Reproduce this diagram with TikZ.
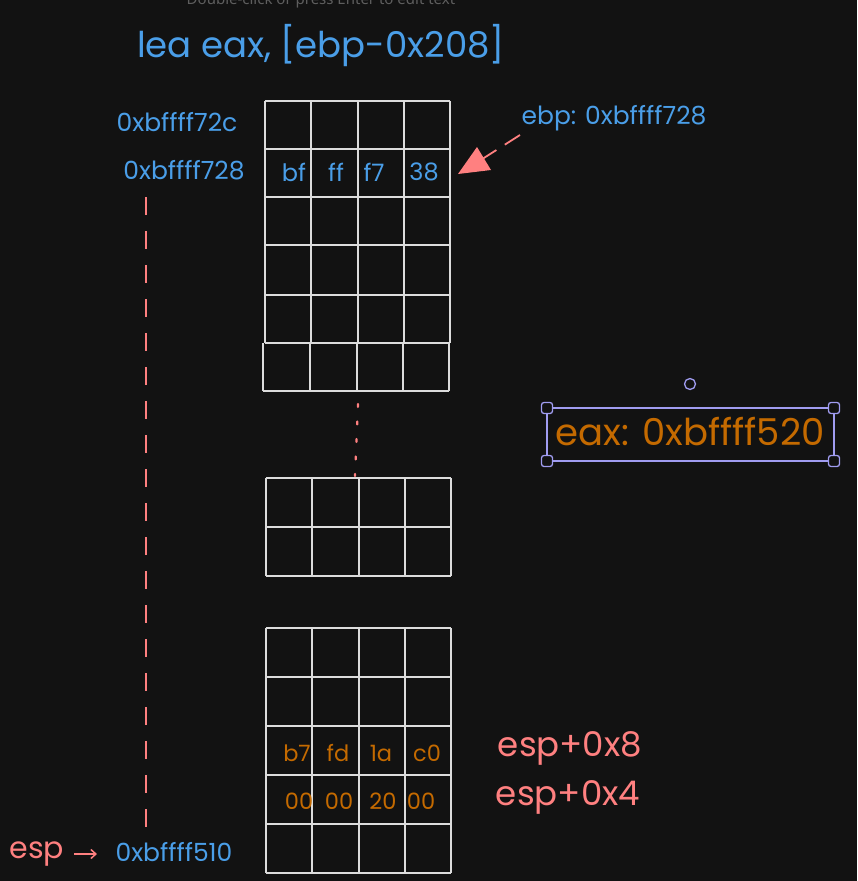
\documentclass[tikz,border=0pt]{standalone}
\usepackage{fontspec}
\usetikzlibrary{arrows.meta}
\setmainfont{Poppins}
\newfontfamily\uifont{Noto Sans}
\definecolor{bg}{HTML}{121212}
\definecolor{hblue}{HTML}{4A9EE8}
\definecolor{hred}{HTML}{FF8080}
\definecolor{horange}{HTML}{C46A00}
\definecolor{gridc}{HTML}{DCDCDC}
\definecolor{selc}{HTML}{A09CF0}
\definecolor{hint}{HTML}{5E5E5E}
\tikzset{
  gridline/.style={draw=gridc, line width=1.6pt},
  bluetxt/.style={text=hblue, inner sep=0pt, font=\fontsize{25}{25}\selectfont},
  celltxt/.style={text=hblue, inner sep=0pt, font=\fontsize{24}{24}\selectfont},
  orangecell/.style={text=horange, inner sep=0pt, font=\fontsize{22.5}{22.5}\selectfont},
  redtxt/.style={text=hred, inner sep=0pt, font=\fontsize{34}{34}\selectfont},
  redline/.style={draw=hred, line width=1.8pt},
  handle/.style={draw=selc, fill=bg, line width=1.3pt, rounded corners=2.5pt},
}
\begin{document}
\begin{tikzpicture}[x=1pt,y=-1pt]
\useasboundingbox (0,0) rectangle (857,881);
\fill[bg] (0,0) rectangle (857,881);
\begin{scope}
\clip (0,0) rectangle (857,881);
\node[text=hint, inner sep=0pt, anchor=base, font=\uifont\fontsize{15}{15}\selectfont] (hinttext) at (321,4) {Double-click or press Enter to edit text};
\end{scope}
% title
\node[text=hblue, inner sep=0pt, font=\fontsize{35.5}{35.5}\selectfont] (title) at (321,46) {lea eax, [ebp-0x208]};
% top grid
\foreach \y in {101,149,197,245,295,343} \draw[gridline] (265,\y) -- (450,\y);
\foreach \x in {265,311,358,404,450} \draw[gridline] (\x,101) -- (\x,343);
\draw[gridline] (263,391) -- (449,391);
\foreach \x in {263,310,357,403,449} \draw[gridline] (\x,343) -- (\x,391);
% middle grid
\foreach \y in {478,527,576} \draw[gridline] (266,\y) -- (451,\y);
\foreach \x in {266,312,359,405,451} \draw[gridline] (\x,478) -- (\x,576);
% bottom grid
\foreach \y in {628,677,726,775,824,873} \draw[gridline] (266,\y) -- (451,\y);
\foreach \x in {266,312,359,405,451} \draw[gridline] (\x,628) -- (\x,873);
% addresses
\node[bluetxt] (a72c) at (177,122) {0xbffff72c};
\node[bluetxt] (a728) at (184,170) {0xbffff728};
\node[bluetxt] (a510) at (174,852) {0xbffff510};
% ebp row values
\node[celltxt] (c1) at (294,172) {bf};
\node[celltxt] (c2) at (336,172) {ff};
\node[celltxt] (c3) at (374,172) {f7};
\node[celltxt] (c4) at (424,172) {38};
% esp+8 row
\node[orangecell] (d1) at (297,753) {b7};
\node[orangecell] (d2) at (338,753) {fd};
\node[orangecell] (d3) at (381,753) {1a};
\node[orangecell] (d4) at (427,753) {c0};
% esp+4 row
\node[orangecell] (e1) at (299,801) {00};
\node[orangecell] (e2) at (339,801) {00};
\node[orangecell] (e3) at (383,801) {20};
\node[orangecell] (e4) at (421,801) {00};
% dashed vertical
\coordinate (vtop) at (146,197);
\coordinate (vbot) at (146,830);
\draw[redline, dash pattern=on 18pt off 16pt] (vtop) -- (vbot);
% dotted between grids
\coordinate (dtop) at (358,404);
\coordinate (dbot) at (355,476);
\draw[draw=hred, line width=2.2pt, line cap=round, dash pattern=on 3pt off 14.5pt] (dtop) -- (dbot);
% ebp label and arrow
\node[text=hblue, inner sep=0pt, font=\fontsize{25}{25}\selectfont] (ebp) at (614,118) {ebp: 0xbffff728};
\coordinate (ebpfrom) at (520,135);
\coordinate (ebptip) at (458,174);
\draw[redline, dash pattern=on 18pt off 10pt] (ebpfrom) -- (476,163);
\fill[hred] (ebptip) -- (477,147) -- (491,170) -- cycle;
% esp labels
\node[redtxt] (esp8) at (570,748) {esp+0x8};
\node[redtxt] (esp4) at (568,797) {esp+0x4};
\node[redtxt, font=\fontsize{30}{30}\selectfont] (esp) at (37,854) {esp};
\coordinate (espa) at (74,854);
\coordinate (espb) at (97,854);
\draw[draw=hred, line width=1.5pt, -{Straight Barb[length=5pt,width=9pt]}] (espa) -- (espb);
% eax selected box
\draw[draw=selc, line width=1.3pt] (547,408) rectangle (834,461);
\node[text=horange, inner sep=0pt, font=\fontsize{37}{37}\selectfont] (eax) at (690,432) {eax: 0xbffff520};
\foreach \cx/\cy in {547/408,834/408,547/461,834/461}
  \draw[handle] (\cx-5.5,\cy-5.5) rectangle (\cx+5.5,\cy+5.5);
\draw[draw=selc, line width=1.3pt] (690,384) circle (5.5);
\end{tikzpicture}
\end{document}
